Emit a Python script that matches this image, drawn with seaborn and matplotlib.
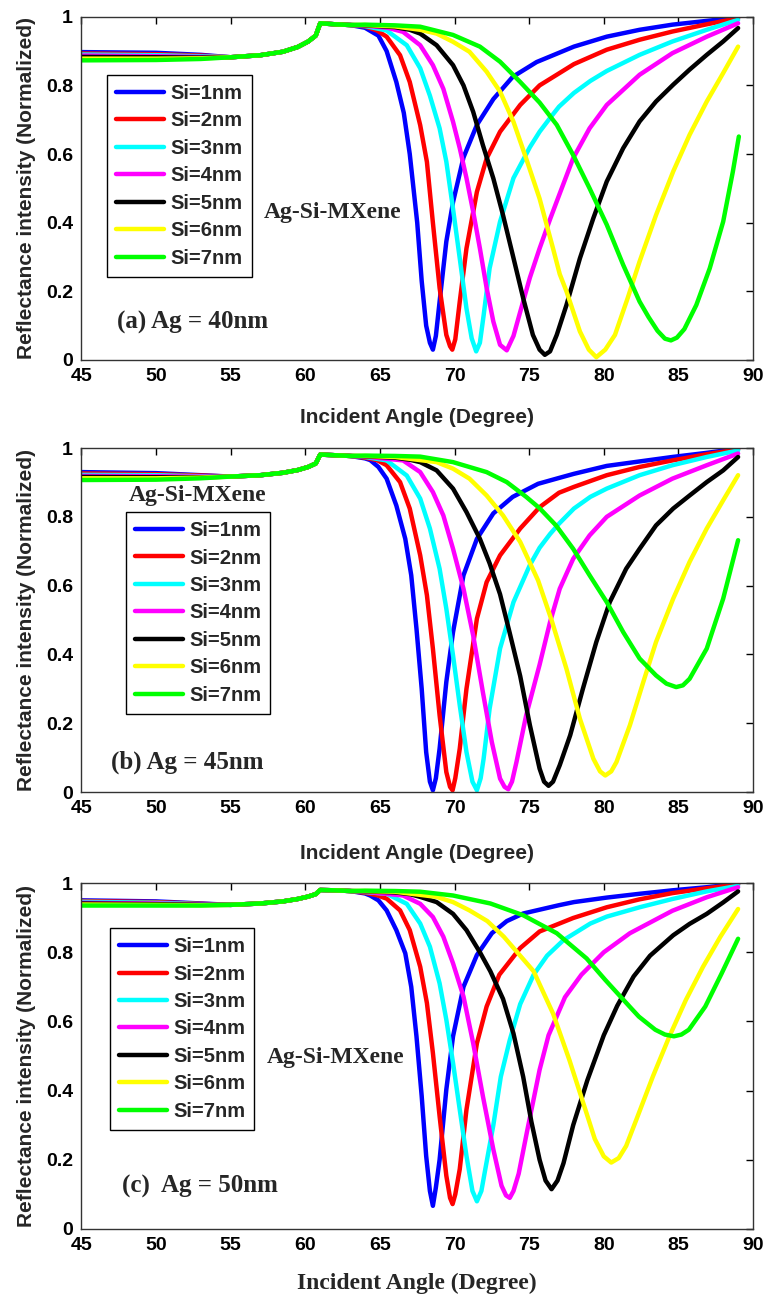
import numpy as np
import pandas as pd
import seaborn as sns
import matplotlib.pyplot as plt

labels = ['Si=1nm', 'Si=2nm', 'Si=3nm', 'Si=4nm', 'Si=5nm', 'Si=6nm', 'Si=7nm']
colors = ['#0000ff', '#ff0000', '#00ffff', '#ff00ff', '#000000', '#ffff00', '#00ff00']

# common part before the dip (angles in degree)
pre_angle = [45, 50, 53, 55, 57, 58.5, 59.5, 60.2, 60.7, 61.0, 62.0, 63.0]

# ---- (a) Ag = 40nm ----
a_flat = [[0.897, 0.895, 0.889], [0.893, 0.891, 0.887], [0.890, 0.888, 0.885], [0.887, 0.885, 0.883],
          [0.883, 0.882, 0.881], [0.878, 0.878, 0.879], [0.873, 0.874, 0.877]]
a_rise = [0.882, 0.888, 0.898, 0.912, 0.928, 0.945, 0.981, 0.978, 0.976]
a_x1 = [64.0, 64.9, 65.45, 66.1, 66.6, 67.0, 67.5, 67.8, 68.1, 68.35, 68.55, 68.75, 69.0, 69.45, 69.9, 70.6, 71.5, 72.6, 73.9, 75.5, 77.0, 78.0, 80.2, 82.4, 84.6, 86.9, 89.0]
a_y1 = [0.968, 0.945, 0.90, 0.81, 0.72, 0.60, 0.40, 0.23, 0.10, 0.05, 0.03, 0.07, 0.17, 0.345, 0.46, 0.59, 0.685, 0.76, 0.825, 0.868, 0.895, 0.913, 0.942, 0.962, 0.977, 0.988, 0.998]
a_x2 = [64.0, 64.8, 65.45, 66.35, 67.0, 67.7, 68.15, 68.55, 69.0, 69.45, 69.7, 69.85, 70.05, 70.35, 70.8, 71.5, 72.15, 73.05, 74.4, 75.7, 77.0, 78.0, 80.2, 82.4, 84.6, 86.9, 89.0]
a_y2 = [0.972, 0.96, 0.942, 0.888, 0.81, 0.684, 0.577, 0.40, 0.21, 0.073, 0.04, 0.03, 0.06, 0.17, 0.325, 0.49, 0.587, 0.665, 0.743, 0.80, 0.835, 0.862, 0.904, 0.933, 0.957, 0.978, 0.996]
a_x3 = [64.0, 65.45, 66.8, 67.7, 68.35, 69.0, 69.45, 69.9, 70.35, 70.8, 71.15, 71.45, 71.7, 71.95, 72.35, 73.05, 73.95, 75.05, 75.7, 76.4, 77.0, 78.0, 79.1, 80.2, 82.4, 84.6, 86.9, 89.0]
a_y3 = [0.973, 0.96, 0.917, 0.85, 0.77, 0.675, 0.578, 0.44, 0.296, 0.15, 0.063, 0.025, 0.05, 0.13, 0.267, 0.403, 0.53, 0.62, 0.665, 0.705, 0.738, 0.778, 0.813, 0.842, 0.889, 0.928, 0.962, 0.991]
a_x4 = [64.0, 65.5, 66.55, 67.7, 68.55, 69.25, 69.9, 70.35, 70.8, 71.25, 71.7, 72.15, 72.6, 73.05, 73.5, 73.95, 74.4, 75.05, 75.7, 76.4, 76.85, 77.95, 79.05, 80.2, 82.4, 84.6, 86.9, 89.0]
a_y4 = [0.974, 0.968, 0.956, 0.917, 0.859, 0.79, 0.694, 0.617, 0.53, 0.432, 0.325, 0.21, 0.112, 0.044, 0.028, 0.07, 0.14, 0.24, 0.325, 0.41, 0.462, 0.588, 0.675, 0.743, 0.831, 0.894, 0.942, 0.981]
a_x5 = [64.0, 66.0, 67.0, 67.7, 68.8, 69.9, 70.6, 71.25, 71.9, 72.6, 73.25, 73.9, 74.6, 75.25, 75.7, 76.05, 76.4, 76.85, 77.5, 78.4, 79.3, 80.2, 81.3, 82.4, 83.5, 84.65, 85.75, 86.9, 88.0, 89.0]
a_y5 = [0.975, 0.97, 0.962, 0.951, 0.917, 0.859, 0.80, 0.723, 0.626, 0.529, 0.422, 0.306, 0.18, 0.073, 0.03, 0.015, 0.025, 0.073, 0.16, 0.296, 0.413, 0.52, 0.617, 0.695, 0.753, 0.802, 0.846, 0.889, 0.928, 0.967]
a_x6 = [64.0, 66.0, 67.7, 68.8, 69.9, 71.0, 72.15, 73.05, 73.95, 74.8, 75.7, 76.6, 77.05, 77.5, 78.4, 79.0, 79.5, 80.1, 80.75, 81.6, 82.4, 83.5, 84.65, 85.75, 86.9, 88.0, 89.0]
a_y6 = [0.976, 0.972, 0.962, 0.951, 0.927, 0.898, 0.84, 0.782, 0.694, 0.587, 0.47, 0.325, 0.25, 0.2, 0.083, 0.03, 0.008, 0.03, 0.073, 0.18, 0.287, 0.422, 0.549, 0.656, 0.753, 0.836, 0.913]
a_x7 = [64.0, 66.0, 67.7, 69.9, 71.7, 73.05, 74.4, 75.7, 76.85, 77.95, 79.05, 80.2, 81.3, 82.4, 83.0, 83.6, 84.1, 84.5, 84.9, 85.4, 86.2, 87.1, 88.0, 88.65, 89.05]
a_y7 = [0.977, 0.975, 0.971, 0.947, 0.913, 0.869, 0.81, 0.75, 0.685, 0.597, 0.50, 0.394, 0.277, 0.17, 0.125, 0.085, 0.062, 0.057, 0.065, 0.09, 0.16, 0.267, 0.403, 0.549, 0.651]

# ---- (b) Ag = 45nm ----
b_flat = [[0.930, 0.927, 0.921], [0.926, 0.924, 0.920], [0.922, 0.921, 0.918], [0.919, 0.918, 0.917],
          [0.916, 0.915, 0.915], [0.912, 0.912, 0.914], [0.907, 0.908, 0.912]]
b_rise = [0.917, 0.921, 0.928, 0.936, 0.945, 0.955, 0.981, 0.979, 0.977]
b_x1 = [64.0, 64.35, 64.9, 65.45, 66.1, 66.7, 67.1, 67.45, 67.8, 68.1, 68.35, 68.55, 68.75, 69.0, 69.45, 69.9, 70.6, 71.5, 72.6, 73.9, 75.6, 77.0, 78.0, 80.2, 82.4, 84.6, 86.9, 89.0]
b_y1 = [0.97, 0.965, 0.945, 0.911, 0.833, 0.736, 0.63, 0.475, 0.30, 0.116, 0.03, 0.005, 0.04, 0.126, 0.32, 0.465, 0.63, 0.736, 0.81, 0.858, 0.896, 0.913, 0.925, 0.948, 0.961, 0.974, 0.986, 0.998]
b_x2 = [64.0, 64.8, 65.45, 66.35, 67.0, 67.7, 68.15, 68.55, 69.0, 69.45, 69.7, 69.87, 70.05, 70.35, 70.8, 71.5, 72.15, 73.05, 74.4, 75.7, 77.0, 78.0, 80.2, 82.4, 84.6, 86.9, 89.0]
b_y2 = [0.972, 0.965, 0.95, 0.901, 0.824, 0.688, 0.572, 0.417, 0.223, 0.058, 0.015, 0.005, 0.04, 0.126, 0.30, 0.504, 0.61, 0.688, 0.766, 0.828, 0.87, 0.887, 0.921, 0.945, 0.964, 0.982, 0.996]
b_x3 = [64.0, 65.45, 66.8, 67.7, 68.35, 69.0, 69.45, 69.9, 70.35, 70.8, 71.2, 71.5, 71.75, 71.95, 72.35, 73.05, 73.95, 75.05, 75.7, 76.4, 77.0, 78.0, 79.1, 80.2, 82.4, 84.6, 86.9, 89.0]
b_y3 = [0.974, 0.964, 0.92, 0.853, 0.766, 0.649, 0.533, 0.397, 0.252, 0.116, 0.03, 0.005, 0.04, 0.097, 0.242, 0.417, 0.552, 0.66, 0.71, 0.75, 0.78, 0.824, 0.858, 0.882, 0.921, 0.95, 0.974, 0.993]
b_x4 = [64.0, 66.55, 67.7, 68.55, 69.25, 69.9, 70.6, 71.25, 71.9, 72.5, 73.05, 73.35, 73.6, 73.85, 74.15, 74.8, 75.7, 76.4, 77.05, 77.95, 79.05, 80.2, 82.4, 84.6, 86.9, 89.0]
b_y4 = [0.975, 0.964, 0.93, 0.872, 0.804, 0.707, 0.591, 0.455, 0.29, 0.145, 0.039, 0.015, 0.008, 0.03, 0.087, 0.223, 0.37, 0.494, 0.591, 0.678, 0.746, 0.80, 0.862, 0.911, 0.95, 0.984]
b_x5 = [64.0, 66.0, 67.0, 67.7, 68.8, 69.9, 70.8, 71.7, 72.35, 73.05, 73.7, 74.4, 75.05, 75.7, 76.0, 76.3, 76.6, 77.05, 77.75, 78.6, 79.5, 80.4, 81.5, 82.4, 83.5, 84.65, 85.75, 86.9, 88.0, 89.0]
b_y5 = [0.976, 0.972, 0.966, 0.959, 0.935, 0.882, 0.814, 0.736, 0.665, 0.575, 0.462, 0.337, 0.194, 0.068, 0.03, 0.018, 0.03, 0.078, 0.165, 0.30, 0.436, 0.552, 0.649, 0.707, 0.775, 0.824, 0.862, 0.901, 0.935, 0.974]
b_x6 = [64.0, 66.0, 68.8, 69.9, 71.0, 72.15, 73.25, 74.4, 75.6, 76.5, 77.5, 78.4, 79.3, 79.75, 80.1, 80.5, 80.85, 81.75, 82.65, 83.5, 84.65, 85.75, 86.9, 88.0, 89.0]
b_y6 = [0.977, 0.974, 0.959, 0.94, 0.911, 0.862, 0.804, 0.727, 0.615, 0.50, 0.358, 0.213, 0.097, 0.06, 0.048, 0.06, 0.087, 0.194, 0.32, 0.436, 0.562, 0.669, 0.766, 0.848, 0.921]
b_x7 = [64.0, 66.0, 67.7, 69.9, 72.15, 73.5, 74.8, 75.7, 76.8, 77.95, 79.05, 80.2, 81.3, 82.4, 83.5, 84.2, 84.85, 85.3, 85.75, 86.9, 88.0, 89.0]
b_y7 = [0.978, 0.977, 0.975, 0.959, 0.93, 0.901, 0.858, 0.825, 0.775, 0.707, 0.63, 0.552, 0.465, 0.388, 0.339, 0.315, 0.305, 0.31, 0.329, 0.417, 0.562, 0.732]

# ---- (c) Ag = 50nm ----
c_flat = [[0.950, 0.947, 0.941], [0.948, 0.945, 0.940], [0.946, 0.943, 0.939], [0.943, 0.941, 0.938],
          [0.941, 0.939, 0.937], [0.938, 0.937, 0.936], [0.935, 0.935, 0.935]]
c_rise = [0.937, 0.941, 0.947, 0.954, 0.961, 0.968, 0.980, 0.979, 0.977]
c_x1 = [64.0, 64.35, 64.9, 65.45, 66.1, 66.7, 67.1, 67.45, 67.8, 68.1, 68.35, 68.55, 68.75, 69.0, 69.45, 69.9, 70.6, 71.5, 72.5, 73.5, 74.6, 77.0, 78.0, 80.2, 82.4, 84.6, 86.9, 89.0]
c_y1 = [0.97, 0.964, 0.95, 0.921, 0.864, 0.797, 0.70, 0.557, 0.384, 0.211, 0.11, 0.067, 0.12, 0.20, 0.403, 0.557, 0.70, 0.792, 0.855, 0.89, 0.912, 0.936, 0.945, 0.958, 0.969, 0.979, 0.988, 0.998]
c_x2 = [64.0, 64.8, 65.45, 66.35, 67.0, 67.7, 68.15, 68.55, 69.0, 69.45, 69.7, 69.87, 70.05, 70.35, 70.8, 71.5, 72.15, 73.0, 74.4, 75.7, 77.95, 80.2, 82.4, 84.6, 86.9, 89.0]
c_y2 = [0.972, 0.965, 0.955, 0.921, 0.864, 0.758, 0.653, 0.509, 0.326, 0.154, 0.09, 0.072, 0.10, 0.173, 0.345, 0.537, 0.643, 0.735, 0.812, 0.86, 0.899, 0.93, 0.953, 0.971, 0.985, 0.996]
c_x3 = [64.0, 65.45, 66.8, 67.7, 68.35, 69.0, 69.45, 69.9, 70.35, 70.8, 71.2, 71.5, 71.8, 72.05, 72.6, 73.1, 73.7, 74.4, 75.3, 76.2, 77.3, 79.1, 80.2, 82.4, 84.6, 86.9, 89.0]
c_y3 = [0.974, 0.969, 0.94, 0.883, 0.816, 0.71, 0.605, 0.48, 0.345, 0.211, 0.11, 0.08, 0.11, 0.17, 0.30, 0.44, 0.546, 0.65, 0.735, 0.79, 0.835, 0.883, 0.903, 0.93, 0.954, 0.976, 0.992]
c_x4 = [64.0, 66.55, 67.7, 68.55, 69.25, 69.9, 70.6, 71.25, 71.9, 72.6, 73.15, 73.45, 73.7, 73.95, 74.3, 74.85, 75.7, 76.3, 77.4, 78.5, 80.0, 81.75, 84.6, 86.9, 89.0]
c_y4 = [0.975, 0.964, 0.94, 0.902, 0.845, 0.768, 0.672, 0.537, 0.384, 0.23, 0.125, 0.097, 0.09, 0.11, 0.16, 0.28, 0.46, 0.56, 0.67, 0.735, 0.80, 0.855, 0.92, 0.959, 0.988]
c_x5 = [64.0, 66.0, 67.0, 67.7, 68.8, 69.9, 70.8, 71.7, 72.4, 73.25, 73.95, 74.6, 75.15, 75.7, 76.1, 76.5, 76.9, 77.3, 77.95, 78.9, 80.0, 80.9, 82.0, 83.1, 84.65, 85.75, 86.9, 88.0, 89.0]
c_y5 = [0.976, 0.973, 0.968, 0.96, 0.945, 0.911, 0.864, 0.80, 0.745, 0.665, 0.565, 0.44, 0.31, 0.20, 0.14, 0.115, 0.14, 0.19, 0.30, 0.43, 0.56, 0.645, 0.73, 0.79, 0.849, 0.882, 0.911, 0.944, 0.976]
c_x6 = [64.0, 66.0, 68.8, 69.9, 71.0, 72.2, 73.3, 74.4, 75.3, 76.6, 77.7, 78.85, 79.4, 80.0, 80.5, 81.0, 81.5, 82.2, 83.3, 84.4, 85.5, 86.65, 87.8, 89.0]
c_y6 = [0.977, 0.975, 0.96, 0.945, 0.921, 0.89, 0.845, 0.79, 0.745, 0.623, 0.488, 0.334, 0.26, 0.21, 0.192, 0.205, 0.24, 0.318, 0.442, 0.557, 0.662, 0.758, 0.844, 0.925]
c_x7 = [64.0, 66.0, 67.7, 69.9, 72.4, 74.6, 76.85, 78.85, 80.1, 81.75, 82.35, 83.45, 84.1, 84.7, 85.2, 85.7, 86.8, 87.9, 89.0]
c_y7 = [0.978, 0.977, 0.975, 0.964, 0.941, 0.907, 0.855, 0.782, 0.72, 0.642, 0.614, 0.576, 0.562, 0.557, 0.562, 0.576, 0.643, 0.739, 0.839]


def make_frame(flat, rise, xs, ys):
    parts = []
    for i in range(len(labels)):
        parts.append(pd.DataFrame({'angle': pre_angle + xs[i],
                                   'R': flat[i] + rise + ys[i],
                                   'Si': labels[i]}))
    return pd.concat(parts, ignore_index=True)


panels = [
    dict(df=make_frame(a_flat, a_rise, [a_x1, a_x2, a_x3, a_x4, a_x5, a_x6, a_x7],
                       [a_y1, a_y2, a_y3, a_y4, a_y5, a_y6, a_y7]),
         rect=[0.106, 0.7229, 0.8745, 0.2642], tag='(a) Ag = 40nm', tag_xy=(47.4, 0.108),
         name_xy=(57.2, 0.43), leg=(0.038, 0.831), xfam='Liberation Sans', xpad=16),
    dict(df=make_frame(b_flat, b_rise, [b_x1, b_x2, b_x3, b_x4, b_x5, b_x6, b_x7],
                       [b_y1, b_y2, b_y3, b_y4, b_y5, b_y6, b_y7]),
         rect=[0.106, 0.3903, 0.8745, 0.2648], tag='(b) Ag = 45nm', tag_xy=(47.0, 0.087),
         name_xy=(48.2, 0.863), leg=(0.066, 0.814), xfam='Liberation Sans', xpad=19),
    dict(df=make_frame(c_flat, c_rise, [c_x1, c_x2, c_x3, c_x4, c_x5, c_x6, c_x7],
                       [c_y1, c_y2, c_y3, c_y4, c_y5, c_y6, c_y7]),
         rect=[0.106, 0.0539, 0.8745, 0.2663], tag='(c)  Ag = 50nm', tag_xy=(47.7, 0.124),
         name_xy=(57.4, 0.497), leg=(0.042, 0.87), xfam='Liberation Serif', xpad=13),
]

sns.set_style('white')
plt.rcParams['font.family'] = ['Liberation Sans', 'DejaVu Sans']

fig = plt.figure(figsize=(7.68, 12.99), dpi=100)

for p in panels:
    ax = fig.add_axes(p['rect'])
    sns.lineplot(data=p['df'], x='angle', y='R', hue='Si', palette=colors, sort=False,
                 estimator=None, linewidth=3.2, legend=False, ax=ax)
    ax.set_xlim(45, 90)
    ax.set_ylim(0, 1)
    ax.set_xticks(np.arange(45, 91, 5))
    ax.set_yticks([0, 0.2, 0.4, 0.6, 0.8, 1])
    ax.set_yticklabels(['0', '0.2', '0.4', '0.6', '0.8', '1'])
    ax.tick_params(direction='in', top=True, right=True, length=5, width=1, pad=6,
                   labelsize=14, colors='black')
    for t in ax.get_xticklabels() + ax.get_yticklabels():
        t.set_fontweight('bold')
    for s in ax.spines.values():
        s.set_color('#333333')
        s.set_linewidth(1)
    ax.set_ylabel('Reflectance intensity (Normalized)', fontsize=15, fontweight='bold', labelpad=7)
    if p['xfam'] == 'Liberation Serif':
        ax.set_xlabel('Incident Angle (Degree)', fontsize=17, fontweight='bold',
                      family='Liberation Serif', labelpad=p['xpad'])
    else:
        ax.set_xlabel('Incident Angle (Degree)', fontsize=15, fontweight='bold', labelpad=p['xpad'])

    ax.text(p['name_xy'][0], p['name_xy'][1], 'Ag-Si-MXene', family='Liberation Serif',
            fontweight='bold', fontsize=17, va='center', ha='left')
    ax.text(p['tag_xy'][0], p['tag_xy'][1], p['tag'], family='Liberation Serif',
            fontweight='bold', fontsize=18, va='center', ha='left')

    leg = ax.legend(ax.lines[:7], labels, loc='upper left', bbox_to_anchor=p['leg'],
                    borderaxespad=0, frameon=True, fancybox=False, edgecolor='black',
                    framealpha=1, prop={'weight': 'bold', 'size': 14.5},
                    handlelength=2.4, handletextpad=0.3, labelspacing=0.42, borderpad=0.45)
    leg.get_frame().set_linewidth(1)

fig.savefig('out.png', dpi=100)
